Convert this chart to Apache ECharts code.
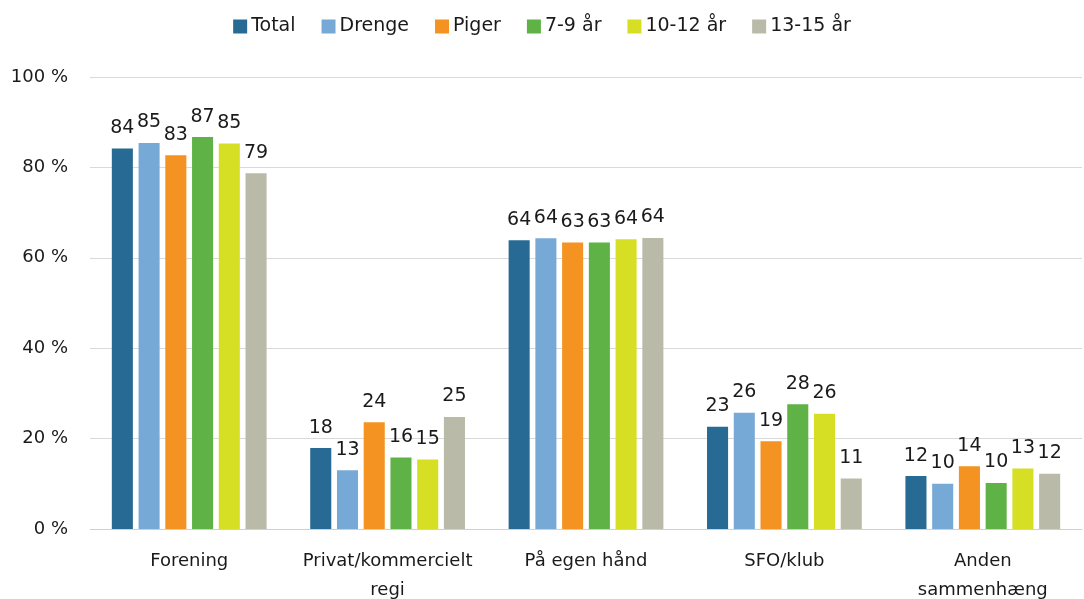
<!DOCTYPE html>
<html>
<head>
<meta charset="utf-8">
<script src="https://cdn.jsdelivr.net/npm/echarts@6/dist/echarts.min.js"></script>
<style>
    html, body { margin: 0; padding: 0; background: #fff; }
    #main { width: 1084px; height: 599px; }
</style>
</head>
<body>
<div id="main"></div>
<script>
    // kategorier og serier
    var categories = ['Forening', 'Privat/kommercielt\nregi', 'På egen hånd', 'SFO/klub', 'Anden\nsammenhæng'];
    var seriesNames = ['Total', 'Drenge', 'Piger', '7-9 år', '10-12 år', '13-15 år'];
    var total = [84.2, 17.9, 63.9, 22.6, 11.7];
    var drenge = [85.4, 13.0, 64.3, 25.7, 10.0];
    var piger = [82.7, 23.6, 63.4, 19.4, 13.9];
    var aar7_9 = [86.7, 15.8, 63.4, 27.6, 10.2];
    var aar10_12 = [85.3, 15.4, 64.1, 25.5, 13.4];
    var aar13_15 = [78.7, 24.8, 64.4, 11.2, 12.2];
    var yTicks = [0, 20, 40, 60, 80, 100];

    var colors = ['#276a93', '#77a9d7', '#f49321', '#5fb246', '#d6df24', '#babaa8'];
    var font = 'DejaVu Sans';

    var myChart = echarts.init(document.getElementById('main'));
    var allData = [total, drenge, piger, aar7_9, aar10_12, aar13_15];

    var series = seriesNames.map(function(name, i) {
        return {
            name: name,
            type: 'bar',
            data: allData[i],
            barGap: '27%',
            barCategoryGap: '22%',
            itemStyle: { color: colors[i] },
            label: {
                show: true,
                position: 'top',
                distance: 11,
                color: '#1a1a1a',
                fontFamily: font,
                fontSize: 19,
                formatter: function(p) { return Math.round(p.value); }
            }
        };
    });

    var option = {
        animation: false,
        color: colors,
        legend: {
            top: 12,
            left: 'center',
            itemWidth: 14,
            itemHeight: 14,
            itemGap: 26,
            icon: 'rect',
            textStyle: { fontFamily: font, fontSize: 19, color: '#1a1a1a', padding: [0, 0, 0, -1] },
            data: seriesNames
        },
        grid: { left: 90, right: 2, top: 77, bottom: 70, outerBoundsMode: 'none' },
        xAxis: {
            type: 'category',
            data: categories,
            axisLine: { lineStyle: { color: '#d0d0d0', width: 1 } },
            axisTick: { show: false },
            axisLabel: { interval: 0, fontFamily: font, fontSize: 18, color: '#1a1a1a', margin: 18, lineHeight: 29 }
        },
        yAxis: {
            type: 'value',
            min: yTicks[0],
            max: yTicks[yTicks.length - 1],
            interval: 20,
            axisLine: { show: false },
            axisTick: { show: false },
            splitLine: { lineStyle: { color: '#d9d9d9', width: 1 } },
            axisLabel: {
                fontFamily: font, fontSize: 18, color: '#1a1a1a', margin: 22,
                formatter: function(v) { return v + ' %'; }
            }
        },
        series: series
    };
    myChart.setOption(option);
</script>
</body>
</html>
